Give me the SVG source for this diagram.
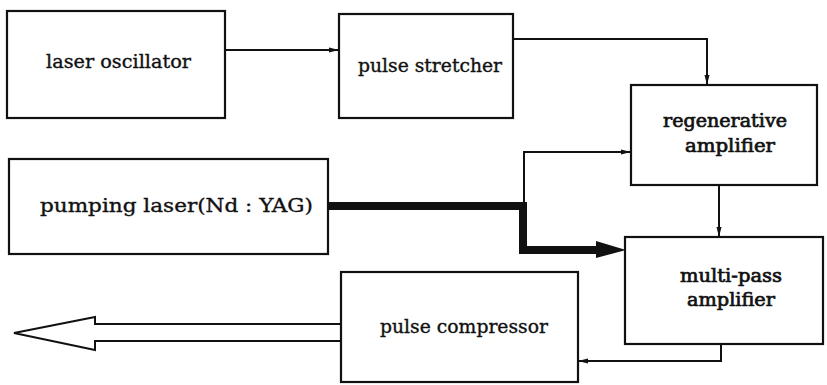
<svg xmlns="http://www.w3.org/2000/svg" width="827" height="385" viewBox="0 0 827 385">
<style>
.box{fill:#fff;stroke:#111;stroke-width:2.2}
.ln{fill:none;stroke:#111;stroke-width:2}
.t{font-family:"DejaVu Serif","Liberation Serif",serif;font-size:18px;fill:#111;stroke:#111;stroke-width:0.35;text-anchor:middle}
.b{stroke-width:0.7}
</style>
<defs>
<marker id="ah" markerWidth="10" markerHeight="6" refX="10" refY="3" orient="auto" markerUnits="userSpaceOnUse">
<path d="M0,0.5 L10,3 L0,5.5 Z" fill="#111"/>
</marker>
</defs>
<rect width="827" height="385" fill="#fff"/>
<g id="connectors">
<path class="ln" d="M225,50 H339" marker-end="url(#ah)"/>
<path class="ln" d="M513,39 H707 V85" marker-end="url(#ah)"/>
<path class="ln" d="M524,206 V152 H631" marker-end="url(#ah)"/>
<path class="ln" d="M719,185 V237" marker-end="url(#ah)"/>
<path class="ln" d="M721,344 V361 H578" marker-end="url(#ah)"/>
<path d="M328,206 H523 V250 H600" fill="none" stroke="#111" stroke-width="8"/>
<path d="M596,241 L626,250 L596,258 Z" fill="#111"/>
<path d="M340,324 H95 V317 L14,333 L95,350 V341 H340" fill="#fff" stroke="#111" stroke-width="2"/>
</g>
<g id="laser-oscillator">
<rect class="box" x="7" y="11" width="218" height="107"/>
<text class="t" x="118.5" y="68" textLength="145" lengthAdjust="spacingAndGlyphs">laser oscillator</text>
</g>
<g id="pulse-stretcher">
<rect class="box" x="339" y="14" width="174" height="104"/>
<text class="t" x="430" y="72" textLength="144" lengthAdjust="spacingAndGlyphs">pulse stretcher</text>
</g>
<g id="regenerative-amplifier">
<rect class="box" x="631" y="85" width="186" height="100"/>
<text class="t b" x="725" y="127" textLength="124" lengthAdjust="spacingAndGlyphs">regenerative</text>
<text class="t b" x="730" y="152" textLength="90" lengthAdjust="spacingAndGlyphs">amplifier</text>
</g>
<g id="pumping-laser">
<rect class="box" x="9" y="159" width="319" height="95"/>
<text class="t" x="176.5" y="212" textLength="273" lengthAdjust="spacingAndGlyphs">pumping laser(Nd : YAG)</text>
</g>
<g id="multi-pass-amplifier">
<rect class="box" x="625" y="237" width="198" height="107"/>
<text class="t b" x="731" y="282" textLength="102" lengthAdjust="spacingAndGlyphs">multi-pass</text>
<text class="t b" x="731" y="306" textLength="88" lengthAdjust="spacingAndGlyphs">amplifier</text>
</g>
<g id="pulse-compressor">
<rect class="box" x="341" y="272" width="237" height="110"/>
<text class="t" x="464" y="333" textLength="168" lengthAdjust="spacingAndGlyphs">pulse compressor</text>
</g>
</svg>
